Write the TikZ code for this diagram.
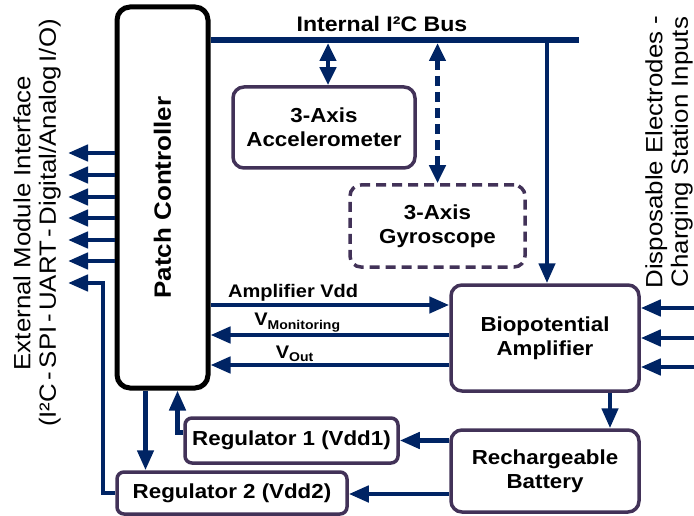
\documentclass[tikz,border=0pt]{standalone}
\usepackage{fontspec}
\setmainfont{Liberation Sans}[FakeStretch=1.1]
\usetikzlibrary{arrows.meta}
\usetikzlibrary{positioning}
\definecolor{wire}{RGB}{0,36,100}
\definecolor{frame}{RGB}{66,50,88}

\begin{document}
\begin{tikzpicture}[x=1pt, y=-1pt,
    block/.style={draw=frame, line width=3.5pt, rounded corners=11pt, fill=white, align=center,
      inner sep=0pt, font=\fontsize{20.3}{24}\selectfont\bfseries},
    link/.style={draw=wire, line width=4.5pt, -{Triangle[length=20pt,width=16pt]}},
    dlink/.style={draw=wire, line width=4.5pt, {Triangle[length=18pt,width=16pt]}-{Triangle[length=18pt,width=16pt]}},
    tag/.style={font=\fontsize{18.2}{20}\selectfont\bfseries, inner sep=1pt},
    side/.style={rotate=90, align=center, font=\fontsize{23.5}{25.5}\selectfont, inner sep=0pt}]
			\useasboundingbox (0,0) rectangle (694,516);
			% Nodes
			\node[draw=black, line width=5pt, rounded corners=13pt, minimum width=91pt, minimum height=381pt] (ctrl) at (162.5,197.5) {};
			\node[rotate=90, font=\fontsize{23.6}{28}\selectfont\bfseries] (ctrllabel) at (ctrl.center) {Patch Controller};
			\node[block, minimum width=182pt, minimum height=81pt] (acc) at (324,127.5) {3-Axis\\Accelerometer};
			\node[block, dash pattern=on 10pt off 6pt, minimum width=175pt, minimum height=82pt] (gyro) at (437.5,226) {3-Axis\\Gyroscope};
			\node[block, minimum width=188pt, minimum height=106pt] (amp) at (545,338) {Biopotential\\Amplifier};
			\node[block, minimum width=188pt, minimum height=82pt] (batt) at (545,471) {Rechargeable\\Battery};
			\node[block, rounded corners=7pt, minimum width=213pt, minimum height=45pt] (reg1) at (291.5,440.5) {Regulator 1 (Vdd1)};
			\node[block, rounded corners=7pt, minimum width=230pt, minimum height=42pt] (reg2) at (232,493) {Regulator 2 (Vdd2)};
			\coordinate (busend) at (579,40);
			% Bus
			\draw[draw=wire, line width=6pt] (ctrl.east |- busend) -- (busend);
			\node[tag, font=\fontsize{21}{24}\selectfont\bfseries, above] (buslabel) at (382,33) {Internal I²C Bus};
			\draw[dlink] ([xshift=4pt]acc.north |- 0,43) -- ([xshift=4pt]acc.north);
			\draw[dlink, dash pattern=on 10pt off 6pt] (gyro.north |- 0,43) -- (gyro.north);
			\draw[link] ([xshift=2pt]amp.north |- busend) -- ([xshift=2pt]amp.north);
			% Amplifier lines
			\draw[link] (ctrl.east |- 0,305) -- (amp.west |- 0,305) node[tag, pos=0.06, above right] {Amplifier Vdd};
			\draw[link] (amp.west |- 0,335) -- (ctrl.east |- 0,335) node[tag, pos=0.83, above right] {V\textsubscript{Monitoring}};
			\draw[link] (amp.west |- 0,365) -- (ctrl.east |- 0,365) node[tag, pos=0.74, above right] {V\textsubscript{Out}};
			\foreach \y in {308,338,367}
				\draw[link] (694,\y) -- (amp.east |- 0,\y);
			% Power
			\draw[link] ([xshift=65pt]amp.south) -- ([xshift=65pt]amp.south |- batt.north);
			\draw[link] (batt.west |- reg1.east) -- (reg1.east);
			\draw[link] (batt.west |- 0,494) -- (reg2.east |- 0,494);
			\draw[link] ([yshift=8pt]reg1.west) -| ([xshift=15pt]ctrl.south);
			\draw[link] ([xshift=-17pt]ctrl.south) -- ([xshift=-17pt]ctrl.south |- reg2.north);
			% External interface
			\foreach \y in {153,175,197,218,240,261}
				\draw[link] (ctrl.west |- 0,\y) -- (68,\y);
			\coordinate (extcorner) at (103,283);
			\draw[link] (reg2.west) -| (extcorner) -- (68,283);
			% Side labels
			\node[side] (extlabel) at (37,223) {External Module Interface\\{\spaceskip=0.15em (I²C - SPI - UART - Digital/Analog I/O)}};
			\node[side, anchor=south] (inlabel) at (693,152) {Disposable Electrodes -\\Charging Station Inputs};
		\end{tikzpicture}
\end{document}
